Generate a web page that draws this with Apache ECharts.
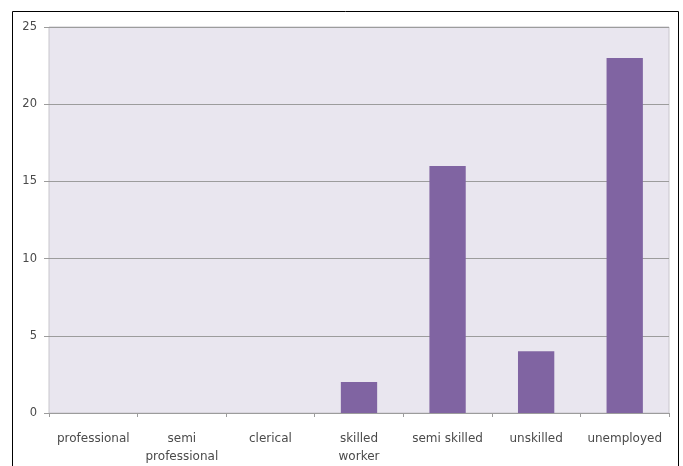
<!DOCTYPE html>
<html>
<head>
<meta charset="utf-8">
<script src="https://cdn.jsdelivr.net/npm/echarts@6/dist/echarts.min.js"></script>
<style>
  html, body { margin: 0; padding: 0; background: #ffffff; }
  #chart { width: 683px; height: 466px; }
</style>
</head>
<body>
<div id="chart"></div>
<script>
// Occupation categories and counts
const categories = ['professional', 'semi\nprofessional', 'clerical', 'skilled\nworker', 'semi skilled', 'unskilled', 'unemployed'];
const counts = [0, 0, 0, 2, 16, 4, 23];
const yTicks = { min: 0, max: 25, interval: 5 };

const chart = echarts.init(document.getElementById('chart'), null, { renderer: 'canvas' });

const gridColor = '#9c9c9c';
const textColor = '#4a4a4a';

chart.setOption({
  animation: false,
  backgroundColor: '#ffffff',
  graphic: [
    {
      type: 'rect',
      shape: { x: 12.5, y: 11.5, width: 666, height: 480 },
      style: { fill: 'none', stroke: '#000000', lineWidth: 1 },
      z: 100
    }
  ],
  grid: {
    left: 49, right: 14, top: 27, bottom: 52,
    show: true,
    backgroundColor: '#e9e6ef',
    borderColor: '#c8c6cc',
    borderWidth: 1
  },
  xAxis: {
    type: 'category',
    data: categories,
    axisLine: { show: true, lineStyle: { color: gridColor, width: 1 } },
    axisTick: { show: true, length: 4, lineStyle: { color: gridColor } },
    axisLabel: {
      color: textColor,
      fontFamily: 'DejaVu Sans',
      fontSize: 12,
      margin: 17,
      lineHeight: 18,
      interval: 0
    }
  },
  yAxis: {
    type: 'value',
    min: yTicks.min,
    max: yTicks.max,
    interval: yTicks.interval,
    axisLine: { show: false },
    axisTick: { show: true, length: 5, lineStyle: { color: gridColor } },
    splitLine: { show: true, lineStyle: { color: gridColor, width: 1 } },
    axisLabel: {
      color: textColor,
      fontFamily: 'DejaVu Sans',
      fontSize: 11.5,
      margin: 12
    }
  },
  series: [
    {
      type: 'bar',
      data: counts,
      barWidth: '41%',
      itemStyle: {
        color: '#8064a2',
        borderWidth: 0
      }
    }
  ]
});
</script>
</body>
</html>
